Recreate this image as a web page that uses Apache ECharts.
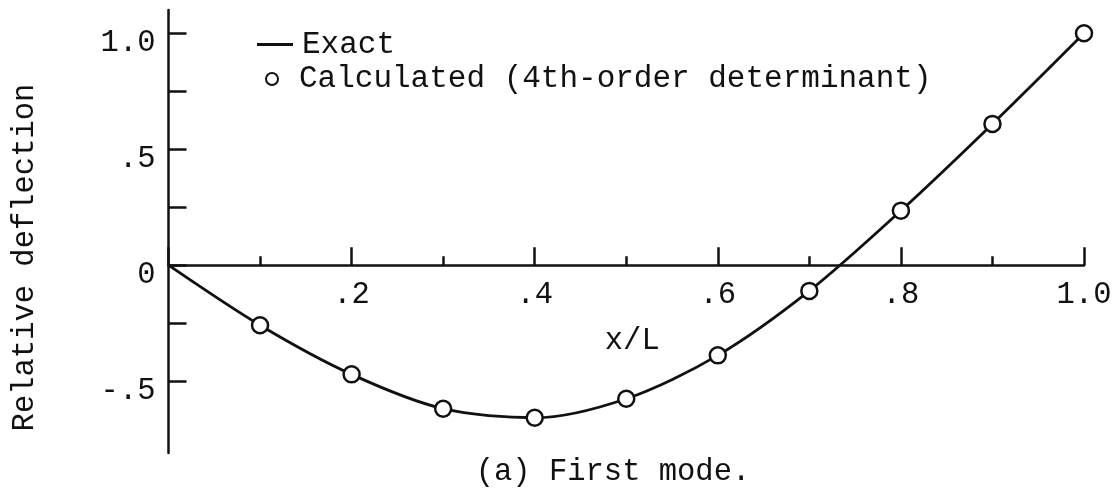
<!DOCTYPE html>
<html>
<head>
<meta charset="utf-8">
<script src="https://cdn.jsdelivr.net/npm/echarts@6/dist/echarts.min.js"></script>
<style>
html,body{margin:0;padding:0;background:#fff;}
#c{width:1115px;height:491px;}
</style>
</head>
<body>
<div id="c"></div>
<script>
// ---- data ----
const exactX = [0, 0.1, 0.2, 0.3, 0.4, 0.5, 0.6, 0.7, 0.8, 0.9, 1.0];
const exactY = [0, -0.259, -0.471, -0.619, -0.658, -0.576, -0.389, -0.111, 0.235, 0.609, 1.0];
const calcX = [0.1, 0.2, 0.3, 0.4, 0.5, 0.6, 0.7, 0.8, 0.9, 1.0];
const calcY = [-0.259, -0.471, -0.619, -0.658, -0.576, -0.389, -0.111, 0.235, 0.609, 1.0];
const xTickValues = [0.2, 0.4, 0.6, 0.8, 1.0];
const xTickLabels = ['.2', '.4', '.6', '.8', '1.0'];
const yTickValues = [-0.5, 0, 0.5, 1.0];
const yTickLabels = ['-.5', '0', '.5', '1.0'];
const yMinorTickValues = [-0.5, -0.25, 0, 0.25, 0.5, 0.75, 1.0];
const seriesNames = ['Exact', 'Calculated (4th-order determinant)'];
const xName = 'x/L';
const yName = 'Relative deflection';
const caption = '(a) First mode.';

const FONT = "'Liberation Mono', 'DejaVu Sans Mono', monospace";
const FS = 30.5;
const INK = '#111';
const Y_MIN = -0.81, Y_MAX = 1.10;
const G_LEFT = 168.5, G_RIGHT = 31, G_TOP = 10, G_BOTTOM = 38, H = 491;
const plotH = H - G_TOP - G_BOTTOM;
const zeroPx = G_TOP + (Y_MAX - 0) / (Y_MAX - Y_MIN) * plotH;

function lookup(vals, labels, v) {
  const i = vals.findIndex(t => Math.abs(t - v) < 1e-9);
  return i >= 0 ? labels[i] : '';
}

const chart = echarts.init(document.getElementById('c'), null, {renderer: 'canvas'});
chart.setOption({
  backgroundColor: '#fff',
  animation: false,
  textStyle: {fontFamily: FONT, color: INK},
  title: {
    text: caption,
    left: 613, top: 456, textAlign: 'center', padding: 0,
    textStyle: {fontFamily: FONT, fontSize: FS, fontWeight: 'normal', color: INK}
  },
  legend: [
    {
      data: [{name: seriesNames[0], icon: 'rect', itemStyle: {color: INK}}],
      left: 257, top: 29, padding: 0, itemWidth: 36, itemHeight: 3,
      textStyle: {fontFamily: FONT, fontSize: 31, color: INK, padding: [0, 0, 0, 4]}
    },
    {
      data: [{name: seriesNames[1], icon: 'circle',
              itemStyle: {color: '#fff', borderColor: INK, borderWidth: 2}}],
      left: 265, top: 63.5, padding: 0, itemWidth: 12, itemHeight: 12,
      textStyle: {fontFamily: FONT, fontSize: 31, color: INK, padding: [0, 0, 0, 16]}
    }
  ],
  grid: [
    {left: G_LEFT, right: G_RIGHT, top: G_TOP, bottom: G_BOTTOM, containLabel: false, outerBoundsMode: 'none'},
    {left: G_LEFT, right: G_RIGHT, top: G_TOP, height: zeroPx - G_TOP, containLabel: false, outerBoundsMode: 'none'}
  ],
  xAxis: [
    {type: 'value', gridIndex: 0, min: 0, max: 1.0, show: false},
    {
      type: 'value', gridIndex: 1, min: 0, max: 1.0, interval: 0.2, position: 'bottom',
      name: xName, nameLocation: 'middle', nameGap: 60,
      nameTextStyle: {fontFamily: FONT, fontSize: FS, color: INK, padding: [0, 0, 0, 12]},
      axisLine: {show: true, onZero: false, lineStyle: {color: INK, width: 2.5}},
      axisTick: {show: true, inside: true, length: 18, lineStyle: {color: INK, width: 2.5}},
      minorTick: {show: true, splitNumber: 2, length: 9, lineStyle: {color: INK, width: 2.5}},
      splitLine: {show: false},
      minorSplitLine: {show: false},
      axisLabel: {
        customValues: xTickValues,
        margin: 14, fontFamily: FONT, fontSize: FS, color: INK,
        formatter: v => lookup(xTickValues, xTickLabels, v)
      }
    }
  ],
  yAxis: [
    {
      type: 'value', gridIndex: 0, min: Y_MIN, max: Y_MAX,
      name: yName, nameLocation: 'middle', nameGap: 128,
      nameTextStyle: {fontFamily: FONT, fontSize: FS, color: INK, padding: [0, 52, 0, 0]},
      axisLine: {onZero: false, lineStyle: {color: INK, width: 2.5}},
      axisTick: {show: true, inside: true, length: 18, customValues: yMinorTickValues,
                 lineStyle: {color: INK, width: 2.5}},
      splitLine: {show: false},
      axisLabel: {
        customValues: yTickValues,
        margin: 13, fontFamily: FONT, fontSize: FS, color: INK,
        verticalAlign: 'top', lineHeight: 20,
        formatter: v => lookup(yTickValues, yTickLabels, v)
      }
    },
    {type: 'value', gridIndex: 1, min: 0, max: 1, show: false}
  ],
  series: [
    {
      name: seriesNames[0], type: 'line', smooth: 0.3, symbol: 'none', z: 2,
      xAxisIndex: 0, yAxisIndex: 0,
      lineStyle: {color: INK, width: 2.8},
      itemStyle: {color: INK},
      data: exactX.map((x, i) => [x, exactY[i]])
    },
    {
      name: seriesNames[1], type: 'scatter', symbol: 'circle', symbolSize: 16, z: 3,
      xAxisIndex: 0, yAxisIndex: 0,
      itemStyle: {color: '#fff', borderColor: INK, borderWidth: 2.5, opacity: 1},
      data: calcX.map((x, i) => [x, calcY[i]])
    }
  ]
});
</script>
</body>
</html>
